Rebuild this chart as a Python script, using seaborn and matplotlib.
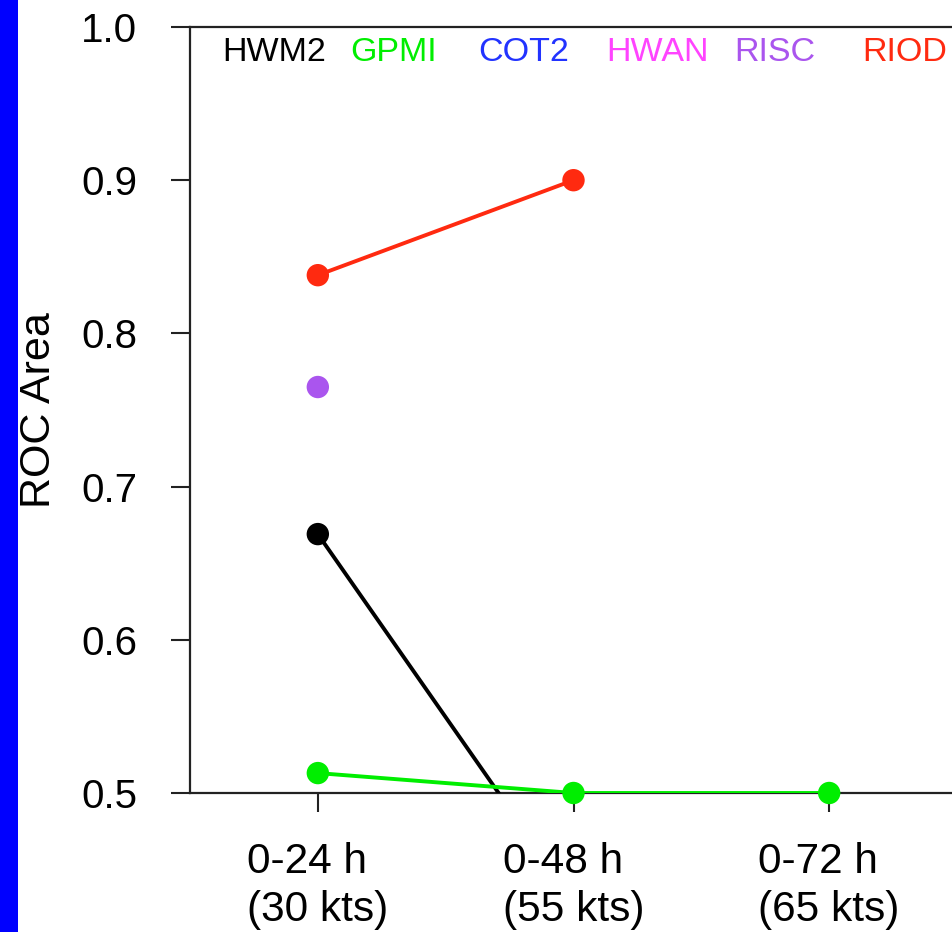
import numpy as np
import pandas as pd
import matplotlib.pyplot as plt
import matplotlib.patches as mpatches
import seaborn as sns

# data
periods = ['0-24 h\n(30 kts)', '0-48 h\n(55 kts)', '0-72 h\n(65 kts)']
models = ['HWM2', 'GPMI', 'COT2', 'HWAN', 'RISC', 'RIOD']
colors = ['#000000', '#00ee00', '#2233ff', '#ff44ff', '#aa55ee', '#ff2a10']
hwm2 = [0.669, 0.43, np.nan]
gpmi = [0.513, 0.500, 0.500]
cot2 = [np.nan, np.nan, np.nan]
hwan = [np.nan, np.nan, np.nan]
risc = [0.765, np.nan, np.nan]
riod = [0.838, 0.900, np.nan]

sns.set_style('ticks')
plt.rcParams['font.family'] = ['Liberation Sans', 'DejaVu Sans']
plt.rcParams['text.color'] = 'black'
plt.rcParams['axes.labelcolor'] = 'black'
plt.rcParams['xtick.color'] = 'black'
plt.rcParams['ytick.color'] = 'black'

rows = []
for name, vals in zip(models, [hwm2, gpmi, cot2, hwan, risc, riod]):
    for i, v in enumerate(vals):
        rows.append({'model': name, 'x': i, 'roc': v})
df = pd.DataFrame(rows).dropna()
palette = dict(zip(models, colors))

fig = plt.figure(figsize=(9.53, 9.32), dpi=100)
fig.patches.append(mpatches.Rectangle((0, 0), 18 / 953, 1, transform=fig.transFigure,
                                      facecolor='#0000ff', edgecolor='none'))
ax = fig.add_axes([190 / 953, 139 / 932, 767 / 953, 766 / 932])

# lines first (clipped at the axes), then markers on top (not clipped)
for name in ['RIOD', 'HWM2', 'GPMI']:
    sub = df[df['model'] == name]
    sns.lineplot(data=sub, x='x', y='roc', color=palette[name], linewidth=2.8,
                 ax=ax, zorder=4, legend=False)
pts = df[df['roc'] >= 0.5]
sns.scatterplot(data=pts, x='x', y='roc', hue='model', palette=palette, s=260,
                edgecolor='none', ax=ax, zorder=5, legend=False, clip_on=False)

ax.set_xlim(-0.5, 2.5)
ax.set_ylim(0.5, 1.0)
ax.set_xticks(range(3))
ax.set_xticklabels(periods, fontsize=30.5, linespacing=1.28, multialignment='left')
ax.set_yticks([0.5, 0.6, 0.7, 0.8, 0.9, 1.0])
ax.set_yticklabels(['0.5', '0.6', '0.7', '0.8', '0.9', '1.0'], fontsize=29)
ax.tick_params(axis='both', direction='out', length=14, width=1.5, color='#222222')
ax.tick_params(axis='x', pad=21)
ax.tick_params(axis='y', pad=24)
ax.set_xlabel('')
ax.set_ylabel('ROC Area', fontsize=31, labelpad=16)
for s in ax.spines.values():
    s.set_linewidth(1.6)
    s.set_color('#222222')

for i, (name, c) in enumerate(zip(models, colors)):
    ax.text(32 / 767 + i * 128 / 767, 0.967, name, color=c, fontsize=24.5,
            transform=ax.transAxes, ha='left', va='center')

plt.savefig('out.png', dpi=100)
